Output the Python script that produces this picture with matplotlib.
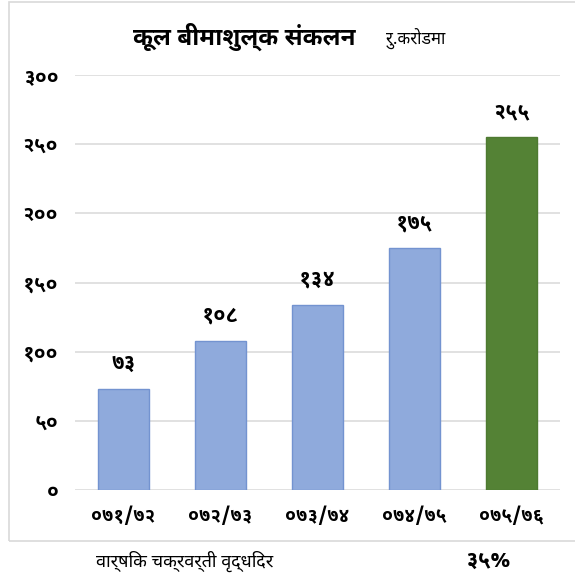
import matplotlib
matplotlib.use("Agg")
import matplotlib.pyplot as plt
from matplotlib.patches import Rectangle

FONTS = ['Noto Sans Devanagari UI', 'Noto Sans Devanagari', 'Lohit Devanagari', 'DejaVu Sans']
plt.rcParams['font.family'] = FONTS

# ---- data ----
categories = ['०७१/७२', '०७२/७३', '०७३/७४', '०७४/७५', '०७५/७६']
values = [73, 108, 134, 175, 255]
value_labels = ['७३', '१०८', '१३४', '१७५', '२५५']
yticks = [0, 50, 100, 150, 200, 250, 300]
ytick_labels = ['०', '५०', '१००', '१५०', '२००', '२५०', '३००']
title = 'कूल बीमाशुल्क संकलन'
unit = 'रु.करोडमा'
growth_label = 'वार्षिक चक्रवर्ती वृद्धिदर'
growth_value = '३५%'

W, H = 575, 583
fig = plt.figure(figsize=(W / 100, H / 100), dpi=100)

def fx(px):
    return px / W

def fy(py):
    return 1 - py / H

# chart frame
fig.patches.append(Rectangle((fx(9), fy(541)), fx(600) - fx(9), fy(1.5) - fy(541),
                             transform=fig.transFigure, fill=False,
                             edgecolor='#D9D9D9', linewidth=1.2))

ax = fig.add_axes([fx(75), fy(490), fx(560) - fx(75), fy(75) - fy(490)])
x = list(range(len(categories)))
colors = ['#8FAADC'] * 4 + ['#548235']
edges = ['#7393D0'] * 4 + ['#4E7A31']
ax.bar(x, values, width=0.53, color=colors, edgecolor=edges, linewidth=1.0, zorder=3)

ax.set_xlim(-0.5, len(categories) - 0.5)
ax.set_ylim(0, 300)
ax.set_yticks(yticks)
ax.set_yticklabels(ytick_labels, fontsize=15, fontweight='bold')
ax.set_xticks(x)
ax.set_xticklabels(categories, fontsize=14, fontweight='bold')
ax.tick_params(axis='y', length=0, pad=12)
ax.tick_params(axis='x', length=0, pad=12)
ax.grid(axis='y', color='#D9D9D9', linewidth=1.1, zorder=0)
for s in ax.spines.values():
    s.set_visible(False)

for xi, v, lab in zip(x, values, value_labels):
    ax.annotate(lab, (xi, v), xytext=(0, 10), textcoords='offset points',
                ha='center', va='bottom', fontsize=15.5, fontweight='bold')

fig.text(fx(133), fy(37), title, fontsize=17.5, fontweight='bold', ha='left', va='center')
fig.text(fx(387), fy(38), unit, fontsize=12, ha='left', va='center')
fig.text(fx(96), fy(561), growth_label, fontsize=13, ha='left', va='center')
fig.text(fx(465), fy(561), growth_value, fontsize=16, fontweight='bold', ha='left', va='center')

fig.savefig("out.png", dpi=100)
